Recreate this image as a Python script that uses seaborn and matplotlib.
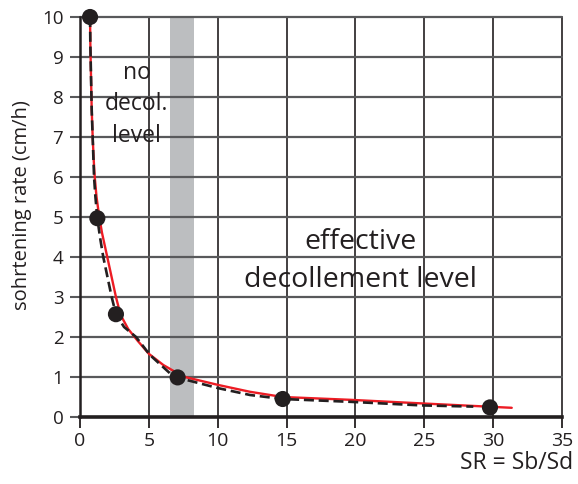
import matplotlib
matplotlib.use("Agg")
import matplotlib.pyplot as plt
import seaborn as sns
import numpy as np
import pandas as pd

# measured points
pt_x = [0.73, 1.26, 2.61, 7.09, 14.72, 29.77]
pt_y = [10.0, 4.97, 2.57, 0.99, 0.45, 0.24]

# red (fitted) curve
red_x = [0.73, 0.75, 0.8, 0.85, 0.92, 1.0, 1.07, 1.2, 1.4, 1.6, 1.98, 2.61, 2.95,
         3.5, 4.2, 5.0, 6.05, 7.5, 10.05, 12.35, 14.72, 19.6, 24.8, 31.35]
red_y = [10.0, 9.34, 8.5, 7.68, 7.0, 6.4, 6.0, 5.5, 5.0, 4.6, 4.0, 3.0, 2.55,
         2.2, 1.9, 1.58, 1.3, 1.01, 0.8, 0.63, 0.5, 0.43, 0.34, 0.23]

# dashed curve
dash_x = [0.73, 0.75, 0.85, 0.92, 1.02, 1.12, 1.26, 1.45, 1.69, 2.3, 2.61, 3.2,
          4.07, 5.08, 6.54, 7.09, 7.75, 10.05, 12.35, 14.72, 19.6, 24.8, 28.56]
dash_y = [10.0, 9.34, 7.68, 7.0, 6.0, 5.5, 4.97, 4.5, 4.0, 3.0, 2.57, 2.25,
          2.0, 1.55, 1.09, 0.99, 0.925, 0.72, 0.55, 0.45, 0.38, 0.29, 0.26]

band = (6.55, 8.25)
x_ticks = [0, 5, 10, 15, 20, 25, 30, 35]
y_ticks = [0, 1, 2, 3, 4, 5, 6, 7, 8, 9, 10]

sns.set_theme(style="white")
plt.rcParams['font.family'] = ['Open Sans', 'DejaVu Sans']

fig = plt.figure(figsize=(5.78, 4.84), dpi=100)
ax = fig.add_axes([80 / 578, 1 - 417 / 484, 482 / 578, 400 / 484])

ax.axvspan(band[0], band[1], color='#bcbec0', lw=0, zorder=0.5)

for xv in x_ticks[1:]:
    ax.axvline(xv, color='#231f20', lw=1.2, zorder=1, clip_on=False)
for yv in y_ticks[1:]:
    ax.axhline(yv, color='#58595b', lw=1.6, zorder=1, clip_on=False)

sns.lineplot(x=red_x, y=red_y, sort=False, estimator=None, color='#ed1c24',
             lw=1.7, ax=ax, zorder=3)
sns.lineplot(x=dash_x, y=dash_y, sort=False, estimator=None, color='#231f20',
             lw=1.9, ax=ax, zorder=4, linestyle=(0, (3.8, 1.8)))
sns.scatterplot(x=pt_x, y=pt_y, s=135, color='#231f20', edgecolor='none',
                ax=ax, zorder=5, clip_on=False)

ax.set_xlim(0, 35)
ax.set_ylim(0, 10)
ax.set_xticks(x_ticks)
ax.set_yticks(y_ticks)
ax.tick_params(axis='y', direction='out', length=7, width=1.5, color='#58595b',
               pad=5, labelsize=13.5, labelcolor='#231f20', left=True)
ax.tick_params(axis='x', direction='out', length=8, width=1.3, color='#231f20',
               pad=3, labelsize=14, labelcolor='#231f20', bottom=True)

for s in ['top', 'right']:
    ax.spines[s].set_visible(False)
ax.spines['left'].set_color('#231f20')
ax.spines['left'].set_linewidth(1.8)
ax.spines['bottom'].set_color('#231f20')
ax.spines['bottom'].set_linewidth(2.6)
ax.spines['left'].set_zorder(2)
ax.spines['bottom'].set_zorder(2)

ax.set_xlabel('')
ax.set_ylabel('')
fig.text(22 / 578, 1 - 205 / 484, 'sohrtening rate (cm/h)', rotation=90,
         ha='center', va='center', fontsize=14.5, color='#231f20')
fig.text(573 / 578, 1 - 463 / 484, 'SR = Sb/Sd', ha='right', va='center',
         fontsize=16.5, color='#231f20')

tk = dict(ha='center', va='baseline', fontsize=16.5, color='#231f20', zorder=6)
ax.text(4.1, 8.45, 'no', **tk)
ax.text(4.1, 7.67, 'decol.', **tk)
ax.text(4.1, 6.88, 'level', **tk)
tk2 = dict(tk, fontsize=20.5)
ax.text(20.4, 4.19, 'effective', **tk2)
ax.text(20.4, 3.24, 'decollement level', **tk2)

fig.savefig('out.png', dpi=100)
